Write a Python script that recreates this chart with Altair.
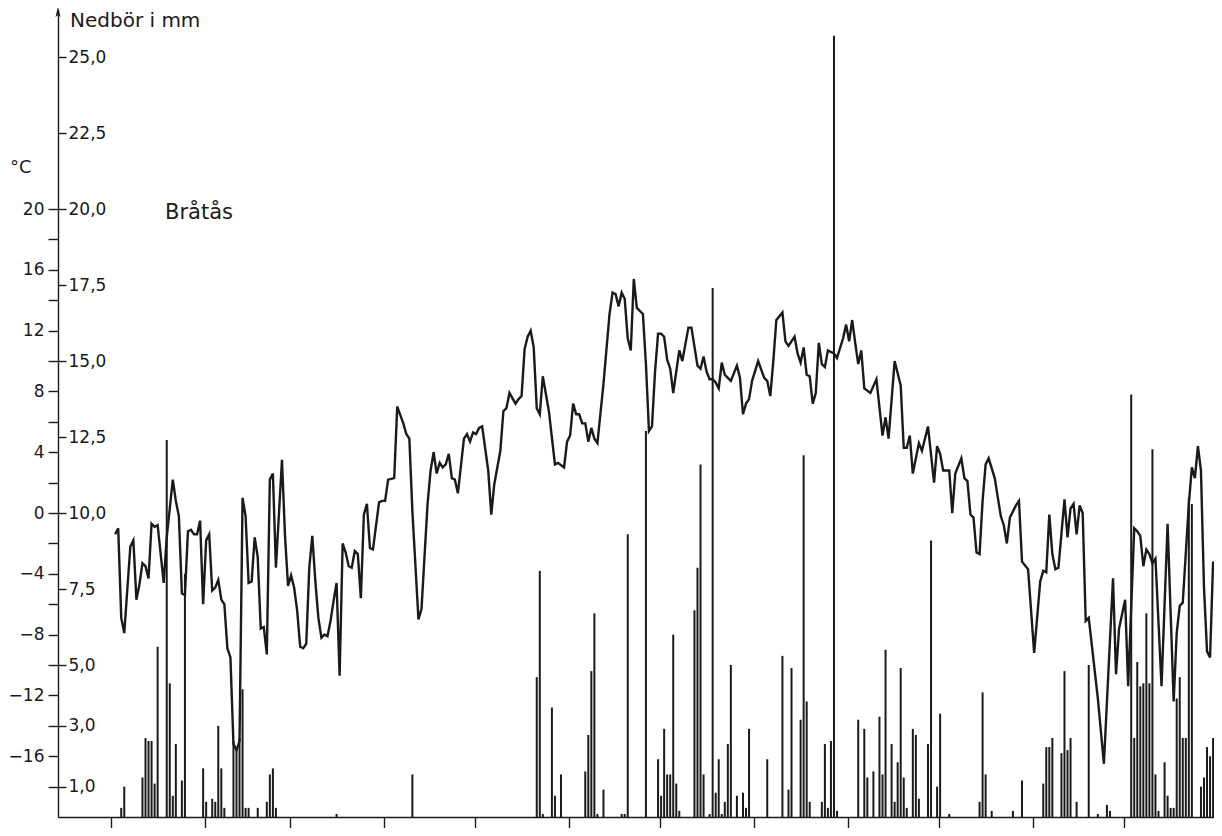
import altair as alt
import pandas as pd

# ---- data ----
temp_days = [1, 2, 3, 4, 6, 7, 8, 9, 10, 11, 12, 13, 14, 15, 17, 18, 20, 21, 22, 23, 24, 25, 26, 27, 28, 29,
             30, 31, 32, 33, 34, 35, 36, 37, 38, 39, 40, 41, 42, 43, 44, 45, 46, 47, 48, 49, 50, 51, 52, 53,
             54, 56, 57, 58, 59, 60, 61, 62, 63, 64, 65, 66, 67, 68, 69, 70, 71, 72, 73, 74, 75, 76, 77, 78,
             79, 80, 81, 82, 83, 84, 85, 86, 88, 89, 90, 91, 93, 94, 96, 97, 98, 99, 101, 102, 104, 105, 106,
             107, 108, 109, 110, 111, 112, 113, 114, 116, 117, 118, 119, 120, 121, 122, 124, 125, 126, 128,
             129, 130, 131, 133, 134, 135, 136, 137, 138, 139, 140, 141, 142, 144, 146, 147, 149, 150, 151,
             152, 153, 154, 155, 156, 157, 158, 159, 160, 162, 164, 165, 166, 167, 168, 169, 170, 171, 172,
             173, 175, 176, 177, 178, 179, 180, 181, 182, 183, 184, 185, 187, 188, 189, 190, 191, 193, 194,
             195, 196, 197, 198, 199, 200, 201, 202, 203, 204, 206, 207, 208, 209, 210, 211, 213, 215, 216,
             217, 218, 219, 221, 222, 223, 225, 226, 227, 228, 229, 230, 231, 232, 233, 234, 235, 236, 238,
             239, 241, 242, 243, 244, 245, 246, 247, 248, 250, 252, 254, 255, 256, 258, 260, 261, 262, 263,
             264, 266, 267, 269, 271, 272, 273, 274, 276, 277, 278, 280, 281, 282, 283, 284, 285, 286, 287,
             288, 289, 291, 293, 294, 295, 296, 298, 299, 300, 302, 304, 306, 307, 308, 309, 310, 311, 312,
             314, 315, 316, 317, 318, 319, 320, 321, 322, 325, 327, 330, 331, 332, 334, 335, 337, 338, 339,
             340, 341, 342, 343, 344, 346, 348, 350, 351, 352, 353, 355, 356, 357, 358, 359, 360, 361, 362,
             363, 364]
temp_vals = [-1.4, -1.0, -6.9, -7.9, -2.2, -1.8, -5.7, -4.7, -3.3, -3.5, -4.3, -0.7, -0.9, -0.8, -4.6, -1.6,
             2.2, 0.8, -0.2, -5.3, -5.4, -1.2, -1.1, -1.4, -1.4, -0.5, -6.0, -1.8, -1.4, -5.1, -4.9, -4.4,
             -5.7, -6.0, -8.9, -9.5, -15.2, -15.6, -15.0, 1.0, -0.2, -4.6, -4.5, -1.6, -2.9, -7.6, -7.5, -9.3,
             2.2, 2.6, -3.6, 3.5, -1.5, -4.8, -4.1, -4.9, -6.4, -8.8, -8.9, -8.6, -3.6, -1.5, -4.5, -6.9, -8.2,
             -8.0, -8.1, -7.1, -5.8, -4.6, -10.7, -2.0, -2.6, -3.5, -3.6, -2.5, -2.7, -5.6, -0.1, 0.6, -2.3,
             -2.4, 0.7, 0.8, 0.8, 2.2, 2.3, 7.0, 5.9, 5.2, 4.9, 0.1, -7.0, -6.3, 0.6, 2.8, 4.0, 2.6, 3.3, 3.0,
             3.2, 3.9, 2.3, 2.2, 1.3, 4.9, 5.2, 4.7, 5.3, 5.2, 5.6, 5.7, 2.8, -0.1, 1.9, 4.1, 6.7, 6.9, 7.9,
             7.2, 7.5, 7.7, 10.8, 11.6, 12.0, 10.9, 6.9, 6.5, 9.0, 6.7, 3.2, 3.3, 3.0, 4.7, 5.1, 7.2, 6.5, 6.5,
             5.9, 5.9, 4.7, 5.6, 4.9, 4.6, 8.5, 13.1, 14.5, 14.4, 13.6, 14.5, 14.1, 11.5, 10.7, 15.4, 13.5,
             13.1, 9.8, 5.4, 5.7, 9.3, 11.8, 11.8, 11.6, 10.1, 9.5, 7.9, 10.7, 10.0, 11.1, 12.2, 12.2, 9.7,
             9.5, 10.3, 9.3, 8.8, 8.8, 8.6, 8.2, 9.9, 9.1, 8.9, 8.7, 9.7, 8.9, 6.5, 7.2, 7.5, 8.7, 10.0, 8.9,
             8.7, 7.7, 10.0, 12.7, 13.2, 11.3, 11.0, 11.6, 10.5, 9.9, 10.9, 9.1, 9.0, 7.2, 7.9, 11.2, 9.8,
             9.6, 10.7, 10.5, 10.2, 11.5, 12.4, 11.3, 12.7, 11.2, 9.8, 10.7, 8.2, 7.9, 8.8, 5.1, 6.3, 4.9,
             10.0, 8.4, 4.3, 4.3, 5.1, 2.6, 4.6, 4.1, 5.7, 2.0, 4.4, 3.9, 2.8, 2.8, 0.0, 2.6, 3.6, 2.3, 2.1,
             -0.1, -0.3, -2.6, -2.7, 0.8, 3.2, 3.6, 2.3, -0.2, -0.8, -2.0, -0.3, 0.5, 0.8, -3.2, -3.7, -9.2,
             -4.5, -3.8, -3.9, -0.1, -2.7, -3.7, -3.6, 0.9, -1.6, 0.3, 0.6, -1.4, 0.5, 0.0, -7.1, -6.9, -12.2,
             -16.5, -4.3, -10.6, -7.6, -5.7, -11.4, -1.0, -1.2, -1.5, -3.5, -2.4, -2.7, -3.3, -3.0, -11.4,
             -0.7, -12.4, -7.9, -6.1, -5.9, 0.6, 3.0, 2.3, 4.4, 2.8, -4.9, -9.1, -9.5, -3.2, -3.7]

prec_days = [3, 4, 10, 11, 12, 13, 14, 15, 18, 19, 20, 21, 23, 24, 30, 31, 33, 34, 35, 36, 37, 40, 41, 42,
             43, 44, 45, 48, 51, 52, 53, 54, 74, 99, 140, 141, 142, 145, 146, 148, 156, 157, 158, 159, 160,
             162, 168, 169, 170, 176, 180, 181, 182, 183, 184, 185, 186, 187, 192, 193, 194, 195, 197, 198,
             199, 200, 201, 202, 203, 204, 206, 208, 209, 210, 216, 221, 223, 224, 227, 228, 229, 230, 234,
             235, 236, 237, 238, 239, 246, 248, 249, 251, 253, 254, 255, 257, 258, 259, 260, 261, 262, 264,
             265, 266, 269, 270, 272, 273, 276, 286, 287, 288, 290, 297, 300, 307, 308, 309, 310, 313, 314,
             315, 316, 318, 322, 325, 328, 329, 336, 337, 338, 339, 340, 341, 342, 343, 344, 345, 347, 348,
             349, 350, 351, 352, 353, 354, 355, 356, 359, 360, 361, 362, 363, 364]
prec_vals = [0.3, 1.0, 1.3, 2.6, 2.5, 2.5, 1.1, 5.6, 12.4, 4.4, 0.7, 2.4, 1.2, 8.0, 1.6, 0.5, 0.6, 0.5, 3.0,
             1.6, 0.3, 2.5, 2.3, 2.6, 4.2, 0.3, 0.3, 0.3, 0.5, 1.4, 1.6, 0.3, 0.1, 1.4, 4.6, 8.1, 0.1, 3.6,
             0.7, 1.4, 1.5, 2.7, 4.8, 6.7, 0.1, 0.9, 0.1, 0.1, 9.3, 12.7, 1.9, 0.7, 2.9, 1.4, 1.4, 6.0, 1.1,
             0.2, 6.8, 8.2, 11.6, 1.4, 0.1, 17.4, 0.8, 1.9, 0.1, 0.5, 2.4, 5.0, 0.7, 0.8, 0.3, 2.9, 1.9, 5.3,
             0.9, 4.9, 3.2, 11.9, 3.8, 0.5, 0.5, 2.4, 0.3, 2.5, 25.7, 0.2, 3.2, 2.9, 1.3, 1.5, 3.3, 1.4, 5.5,
             2.4, 0.5, 1.8, 4.9, 1.3, 0.3, 2.9, 2.7, 0.6, 2.4, 9.1, 1.0, 3.4, 0.1, 0.5, 4.1, 1.4, 0.2, 0.2,
             1.2, 1.1, 2.3, 2.3, 2.6, 2.1, 4.8, 2.2, 2.6, 0.5, 5.0, 0.1, 0.4, 0.2, 13.9, 2.6, 5.1, 4.3, 4.4,
             6.7, 4.4, 12.1, 1.4, 0.2, 1.8, 0.7, 0.3, 0.3, 3.9, 4.6, 2.6, 2.6, 10.5, 10.3, 1.0, 1.3, 2.3, 2.0,
             2.6, 0.5]

month_starts = [-0.5, 30.5, 58.5, 89.5, 119.5, 150.5, 180.5, 211.5, 242.5, 272.5, 303.5, 333.5, 364.5]
temp_ticks = [-18, -16, -14, -12, -10, -8, -6, -4, -2, 0, 2, 4, 6, 8, 10, 12, 14, 16, 18, 20]
prec_ticks = [1.0, 3.0, 5.0, 7.5, 10.0, 12.5, 15.0, 17.5, 20.0, 22.5, 25.0]

# ---- layout ----
W, H = 1156, 807
X_DOMAIN = [-17.85, 363.3]
P_TOP = 26.55
P_DOMAIN = [0, P_TOP]
T_DOMAIN = [-20, 2 * P_TOP - 20]
FONT = "DejaVu Sans"
INK = "#1a1a1a"

temp_df = pd.DataFrame({"day": temp_days, "temp": temp_vals})
prec_df = pd.DataFrame({"day": prec_days, "prec": prec_vals})
prec_df["base"] = 0.0

x_scale = alt.Scale(domain=X_DOMAIN, nice=False, zero=False)
x_axis = alt.Axis(values=month_starts, labels=False, title=None, tickSize=11, grid=False,
                  domainColor=INK, tickColor=INK, domainWidth=1.4, tickWidth=1.4)

bars = alt.Chart(prec_df).mark_rule(color=INK, strokeWidth=2).encode(
    x=alt.X("day:Q", scale=x_scale, axis=x_axis),
    y=alt.Y("prec:Q", scale=alt.Scale(domain=P_DOMAIN, nice=False, zero=False),
            axis=alt.Axis(orient="right", offset=-W, values=prec_ticks, domain=False, grid=False,
                          tickSize=8, tickWidth=1.4, tickColor=INK, labelPadding=2,
                          labelAlign="left", labelBaseline="middle",
                          labelExpr="replace(format(datum.value, '.1f'), '.', ',')",
                          labelFont=FONT, labelFontSize=17, labelColor=INK, title=None)),
    y2="base:Q",
)

line = alt.Chart(temp_df).mark_line(color=INK, strokeWidth=2.4).encode(
    x=alt.X("day:Q", scale=x_scale, axis=x_axis),
    y=alt.Y("temp:Q", scale=alt.Scale(domain=T_DOMAIN, nice=False, zero=False),
            axis=alt.Axis(orient="left", values=temp_ticks, domain=True, domainColor=INK,
                          domainWidth=1.4, grid=False, tickSize=10, tickWidth=1.4, tickColor=INK,
                          labelExpr="datum.value % 4 == 0 ? datum.label : ''",
                          labelPadding=4, labelFont=FONT, labelFontSize=17, labelColor=INK,
                          labelBaseline="middle", labelOverlap=False, title=None)),
)

one = pd.DataFrame({"k": [0]})
arrow = alt.Chart(one).mark_point(
    shape="M0,-1L0.45,0.9L0,0.55L-0.45,0.9Z", filled=True, color=INK, size=120, opacity=1
).encode(x=alt.value(0), y=alt.value(2))

def label(text, px, py, size):
    return alt.Chart(one).mark_text(text=text, font=FONT, fontSize=size, color=INK,
                                    align="left", baseline="alphabetic").encode(
        x=alt.value(px), y=alt.value(py))

chart = alt.layer(
    bars, line, arrow,
    label("Nedbör i mm", 12, 17, 20),
    label("°C", -48, 163, 18),
    label("Bråtås", 107, 209, 21),
).resolve_scale(y="independent").properties(
    width=W, height=H,
    autosize=alt.AutoSizeParams(type="none"),
    padding={"left": 50, "top": 2, "right": 0, "bottom": 11},
).configure(background="white").configure_view(stroke=None)

chart.save("out.html", embed_options={"renderer": "svg", "actions": False})
